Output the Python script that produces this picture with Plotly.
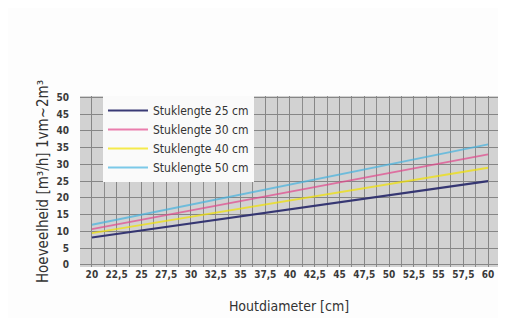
import plotly.graph_objects as go

diameters = [20, 30, 40, 50, 60]
len25 = [8.2, 12.4, 16.6, 20.8, 25.0]
len30 = [10.7, 16.3, 21.9, 27.4, 33.0]
len40 = [9.5, 14.4, 19.3, 24.2, 29.0]
len50 = [12.0, 18.0, 24.0, 30.0, 36.0]

series_names = ["Stuklengte 25 cm", "Stuklengte 30 cm", "Stuklengte 40 cm", "Stuklengte 50 cm"]
series_values = [len25, len30, len40, len50]
series_colors = ["#2e2f6e", "#e2478c", "#f2e200", "#45b3e0"]

x_tickvals = [20 + 2.5 * i for i in range(17)]
x_ticktext = ["20", "22,5", "25", "27,5", "30", "32,5", "35", "37,5", "40", "42,5",
              "45", "47,5", "50", "52,5", "55", "57,5", "60"]
y_tickvals = [0, 5, 10, 15, 20, 25, 30, 35, 40, 45, 50]

FONT = "DejaVu Sans Condensed, Liberation Sans Narrow, Roboto, sans-serif"

fig = go.Figure()
for name, vals, col in zip(series_names, series_values, series_colors):
    fig.add_trace(go.Scatter(
        x=diameters, y=vals, mode="lines", name=name,
        line=dict(color=col, width=2.2 if col == "#2e2f6e" else 1.8),
        opacity=0.95 if col == "#2e2f6e" else 0.7,
    ))

fig.update_layout(
    width=498, height=310,
    margin=dict(l=72, r=8, t=88, b=51),
    paper_bgcolor="#fdfdfd",
    plot_bgcolor="#d2d2d2",
    font=dict(family=FONT, color="#333333"),
    showlegend=True,
    legend=dict(
        x=0.055, y=1, xanchor="left", yanchor="top",
        bgcolor="#fafafa", borderwidth=0,
        font=dict(family=FONT, size=12, color="#333333"),
        tracegroupgap=0, itemwidth=40, entrywidth=141,
    ),
    xaxis=dict(
        range=[18.8, 61.0], automargin=False,
        tickmode="array", tickvals=x_tickvals, ticktext=x_ticktext,
        showgrid=True, gridcolor="#868686", gridwidth=1,
        minor=dict(dtick=1.25, tick0=0, showgrid=True, gridcolor="#8c8c8c", gridwidth=1),
        zeroline=False, showline=False, ticks="",
        tickfont=dict(family=FONT, size=10, color="#3a3a3a", weight="bold"),
        title=dict(text="Houtdiameter [cm]", font=dict(family=FONT, size=14, color="#333333"), standoff=22),
    ),
    yaxis=dict(
        range=[-0.6, 50.4], automargin=False,
        tickmode="array", tickvals=y_tickvals,
        showgrid=True, gridcolor="#868686", gridwidth=1,
        zeroline=False, showline=False, ticks="", ticklabelstandoff=10,
        tickfont=dict(family=FONT, size=10, color="#3a3a3a", weight="bold"),
        title=dict(text="Hoeveelheid [m³/h] 1vm~2m³", font=dict(family=FONT, size=15, color="#333333"), standoff=4),
    ),
)

fig.write_html("out.html")
